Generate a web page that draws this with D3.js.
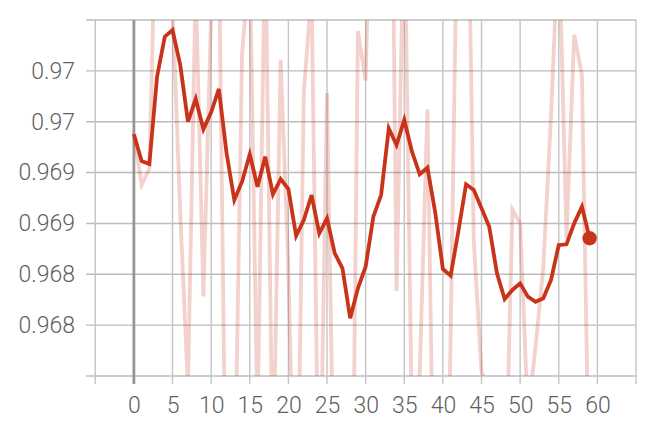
<!DOCTYPE html>
<html>
<head>
<meta charset="utf-8">
<script src="https://cdn.jsdelivr.net/npm/d3@7"></script>
<style>
  html, body { margin: 0; padding: 0; background: #ffffff; }
  svg { display: block; }
  text { font-family: Roboto, "Noto Sans", sans-serif; font-weight: 300; }
</style>
</head>
<body>
<svg id="chart" width="665" height="426"></svg>
<script>
// ---- data ----
const steps = d3.range(0, 60);

const smoothedValues = [
  0.969876, 0.969614, 0.969584, 0.970443, 0.970836, 0.970902, 0.970558, 0.970000, 0.970223, 0.969925,
  0.970093, 0.970322, 0.969689, 0.969230, 0.969410, 0.969680, 0.969361, 0.969656, 0.969286, 0.969437,
  0.969338, 0.968879, 0.969034, 0.969279, 0.968903, 0.969050, 0.968706, 0.968559, 0.968067, 0.968362,
  0.968575, 0.969066, 0.969279, 0.969935, 0.969771, 0.970017, 0.969705, 0.969483, 0.969548, 0.969112,
  0.968552, 0.968486, 0.968919, 0.969385, 0.969329, 0.969149, 0.968968, 0.968510, 0.968257, 0.968346,
  0.968411, 0.968280, 0.968230, 0.968264, 0.968444, 0.968788, 0.968795, 0.969001, 0.969164, 0.968854
];

const rawValues = [
  0.969876, 0.969378, 0.969534, 0.972536, 0.972053, 0.971145, 0.969106, 0.967383, 0.971368, 0.968283,
  0.971073, 0.971736, 0.965606, 0.966148, 0.970659, 0.971605, 0.967025, 0.971868, 0.966459, 0.970608,
  0.968561, 0.965199, 0.970286, 0.971296, 0.965784, 0.970282, 0.965809, 0.967308, 0.963874, 0.970892,
  0.970405, 0.973321, 0.971134, 0.975654, 0.968335, 0.972174, 0.966963, 0.967524, 0.970121, 0.965256,
  0.963583, 0.967901, 0.972766, 0.973534, 0.968829, 0.967543, 0.967353, 0.964416, 0.965998, 0.969137,
  0.969001, 0.967100, 0.967790, 0.968564, 0.970057, 0.971875, 0.968857, 0.970855, 0.970459, 0.966064
];

const yGridValues = [0.9675, 0.9680, 0.9685, 0.9690, 0.9695, 0.9700, 0.9705, 0.9710];
const yTickValues = [0.9680, 0.9685, 0.9690, 0.9695, 0.9700, 0.9705];
const yTickLabels = ["0.968", "0.968", "0.969", "0.969", "0.97", "0.97"];
const xGridValues = [-5, 0, 5, 10, 15, 20, 25, 30, 35, 40, 45, 50, 55, 60, 65];
const xTickLabels = ["0", "5", "10", "15", "20", "25", "30", "35", "40", "45", "50", "55", "60"];

// ---- layout ----
const plot = { left: 86, right: 636, top: 20, bottom: 376 };
const lineColor = "#c8341a";

const svg = d3.select("#chart");

const x = d3.scaleLinear().domain([-6.2, 65]).range([plot.left, plot.right]);
const y = d3.scaleLinear().domain([0.9675, 0.9710]).range([plot.bottom, plot.top]);

svg.append("defs").append("clipPath").attr("id", "plotClip")
  .append("rect")
  .attr("x", plot.left).attr("y", plot.top)
  .attr("width", plot.right - plot.left).attr("height", plot.bottom - plot.top);

// horizontal grid
svg.append("g").selectAll("line").data(yGridValues).join("line")
  .attr("x1", plot.left).attr("x2", plot.right)
  .attr("y1", d => y(d)).attr("y2", d => y(d))
  .attr("stroke", "#bcbcbc").attr("stroke-width", 1.4);

// vertical grid + ticks below axis
svg.append("g").selectAll("line").data(xGridValues).join("line")
  .attr("x1", d => x(d)).attr("x2", d => x(d))
  .attr("y1", plot.top).attr("y2", plot.bottom + 8)
  .attr("stroke", d => d === 0 ? "#969696" : "#c4c4c4")
  .attr("stroke-width", d => d === 0 ? 2.8 : 1.4);

// y-axis labels
const yAxis = d3.axisLeft(y)
  .tickValues(yTickValues)
  .tickFormat((d, i) => yTickLabels[i])
  .tickSize(0).tickPadding(0);
const yg = svg.append("g").attr("transform", `translate(${plot.left - 11},0)`).call(yAxis);
yg.select(".domain").remove();
yg.selectAll("text").attr("font-size", 23).attr("fill", "#5f5f5f").attr("font-family", "Roboto, sans-serif").attr("font-weight", 300);

// x-axis labels
const xAxis = d3.axisBottom(x)
  .tickValues(xTickLabels.map(Number))
  .tickFormat((d, i) => xTickLabels[i])
  .tickSize(0).tickPadding(0);
const xg = svg.append("g").attr("transform", `translate(0,${plot.bottom + 21})`).call(xAxis);
xg.select(".domain").remove();
xg.selectAll("text").attr("font-size", 23).attr("fill", "#5f5f5f").attr("font-family", "Roboto, sans-serif").attr("font-weight", 300);

// lines
const line = d3.line().x(d => x(d[0])).y(d => y(d[1]));
const lines = svg.append("g").attr("clip-path", "url(#plotClip)");

lines.append("path")
  .datum(steps.map((s, i) => [s, rawValues[i]]))
  .attr("d", line)
  .attr("fill", "none")
  .attr("stroke", lineColor).attr("stroke-opacity", 0.22)
  .attr("stroke-width", 3.8).attr("stroke-linejoin", "miter");

lines.append("path")
  .datum(steps.map((s, i) => [s, smoothedValues[i]]))
  .attr("d", line)
  .attr("fill", "none")
  .attr("stroke", lineColor)
  .attr("stroke-width", 3.8).attr("stroke-linejoin", "miter");

// end dot
const lastIdx = steps.length - 1;
svg.append("circle")
  .attr("cx", x(steps[lastIdx])).attr("cy", y(smoothedValues[lastIdx]))
  .attr("r", 7.2).attr("fill", lineColor);
</script>
</body>
</html>
